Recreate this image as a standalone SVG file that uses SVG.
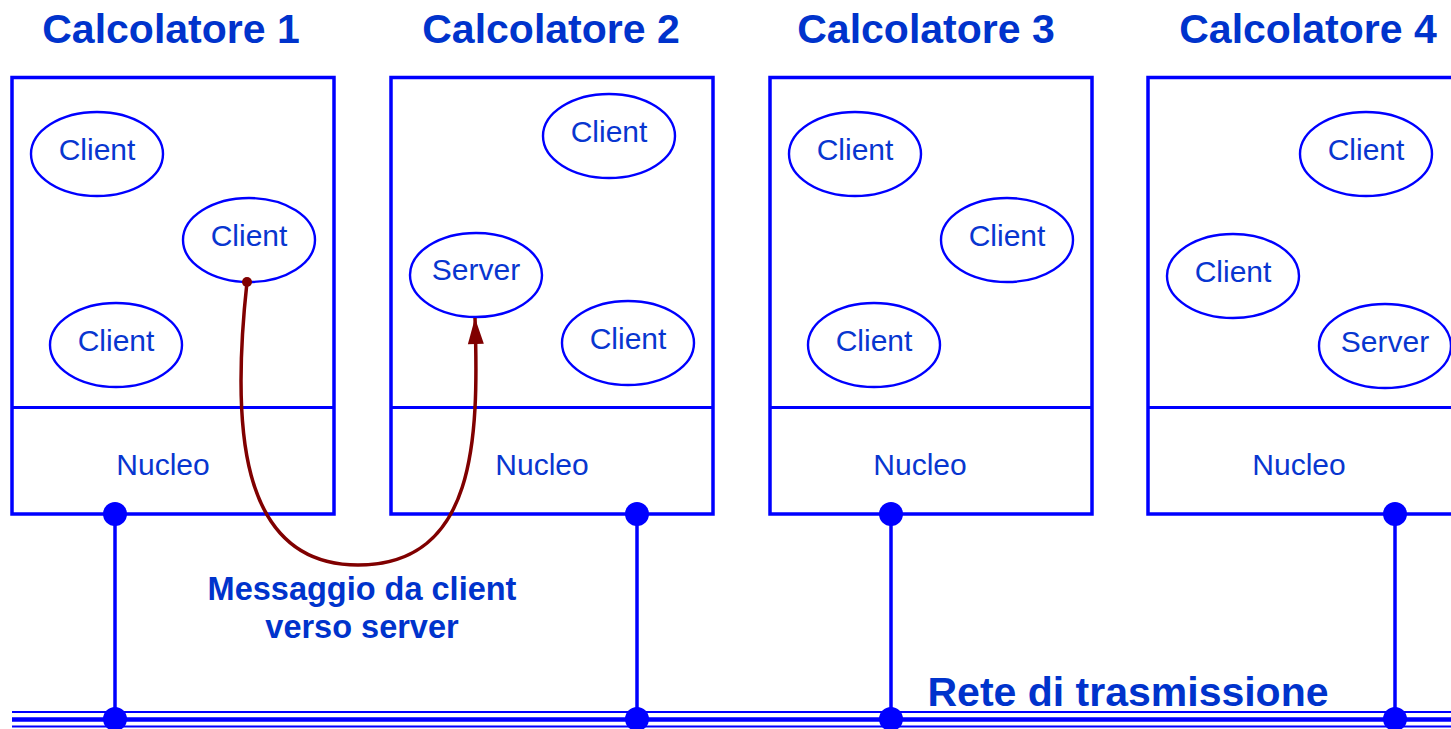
<svg xmlns="http://www.w3.org/2000/svg" width="1451" height="729" viewBox="0 0 1451 729">
<style>
.box{fill:none;stroke:#0000ff;stroke-width:3.5}
.div{stroke:#0000ff;stroke-width:3}
.ell{fill:#fff;stroke:#0000ff;stroke-width:2.4}
.t{font-family:"Liberation Sans",Arial,sans-serif;font-size:30px;fill:#0836d0;text-anchor:middle}
.title{font-family:"Liberation Sans",Arial,sans-serif;font-size:41px;font-weight:bold;fill:#0033cc;text-anchor:middle}
.lbl{font-family:"Liberation Sans",Arial,sans-serif;font-size:32.5px;font-weight:bold;fill:#0033cc;text-anchor:middle}
.wire{stroke:#0000ff;stroke-width:3.5}
.dot{fill:#0000ff}
.msg{fill:none;stroke:#800000;stroke-width:3.5}
</style>
<defs>
<marker id="ah" markerUnits="userSpaceOnUse" markerWidth="28" markerHeight="18" refX="27" refY="9" orient="auto" viewBox="0 0 28 18">
<path d="M27,9 L1,1 L1,17 Z" fill="#800000"/>
</marker>
</defs>

<g id="connectors">
<line class="wire" x1="115" y1="514" x2="115" y2="719"/>
<line class="wire" x1="637" y1="514" x2="637" y2="719"/>
<line class="wire" x1="891" y1="514" x2="891" y2="719"/>
<line class="wire" x1="1395" y1="514" x2="1395" y2="719"/>
</g>

<g id="bus">
<line x1="12" y1="712" x2="1451" y2="712" stroke="#0000ff" stroke-width="2"/>
<line x1="12" y1="719.5" x2="1451" y2="719.5" stroke="#0000ff" stroke-width="4.5"/>
<line x1="12" y1="726.5" x2="1451" y2="726.5" stroke="#0000ff" stroke-width="2"/>
<text class="title" x="1128" y="706" font-size="41.5">Rete di trasmissione</text>
</g>

<g id="calcolatore1">
<text class="title" x="171" y="43">Calcolatore 1</text>
<rect class="box" x="12" y="77.5" width="322" height="436.5"/>
<line class="div" x1="12" y1="407.5" x2="334" y2="407.5"/>
<text class="t" x="163" y="475">Nucleo</text>
<g id="c1-client1"><ellipse class="ell" cx="97" cy="154" rx="66" ry="42"/><text class="t" x="97" y="160">Client</text></g>
<g id="c1-client2"><ellipse class="ell" cx="249" cy="240" rx="66" ry="42"/><text class="t" x="249" y="246">Client</text></g>
<g id="c1-client3"><ellipse class="ell" cx="116" cy="345" rx="66" ry="42"/><text class="t" x="116" y="351">Client</text></g>
</g>

<g id="calcolatore2">
<text class="title" x="551" y="43">Calcolatore 2</text>
<rect class="box" x="391" y="77.5" width="322" height="436.5"/>
<line class="div" x1="391" y1="407.5" x2="713" y2="407.5"/>
<text class="t" x="542" y="475">Nucleo</text>
<g id="c2-client1"><ellipse class="ell" cx="609" cy="136" rx="66" ry="42"/><text class="t" x="609" y="142">Client</text></g>
<g id="c2-server"><ellipse class="ell" cx="476" cy="275" rx="66" ry="42"/><text class="t" x="476" y="280">Server</text></g>
<g id="c2-client2"><ellipse class="ell" cx="628" cy="343" rx="66" ry="42"/><text class="t" x="628" y="349">Client</text></g>
</g>

<g id="calcolatore3">
<text class="title" x="926" y="43">Calcolatore 3</text>
<rect class="box" x="770" y="77.5" width="322" height="436.5"/>
<line class="div" x1="770" y1="407.5" x2="1092" y2="407.5"/>
<text class="t" x="920" y="475">Nucleo</text>
<g id="c3-client1"><ellipse class="ell" cx="855" cy="154" rx="66" ry="42"/><text class="t" x="855" y="160">Client</text></g>
<g id="c3-client2"><ellipse class="ell" cx="1007" cy="240" rx="66" ry="42"/><text class="t" x="1007" y="246">Client</text></g>
<g id="c3-client3"><ellipse class="ell" cx="874" cy="345" rx="66" ry="42"/><text class="t" x="874" y="351">Client</text></g>
</g>

<g id="calcolatore4">
<text class="title" x="1308" y="43">Calcolatore 4</text>
<rect class="box" x="1148" y="77.5" width="322" height="436.5"/>
<line class="div" x1="1148" y1="407.5" x2="1470" y2="407.5"/>
<text class="t" x="1299" y="475">Nucleo</text>
<g id="c4-client1"><ellipse class="ell" cx="1366" cy="154" rx="66" ry="42"/><text class="t" x="1366" y="160">Client</text></g>
<g id="c4-client2"><ellipse class="ell" cx="1233" cy="276" rx="66" ry="42"/><text class="t" x="1233" y="282">Client</text></g>
<g id="c4-server"><ellipse class="ell" cx="1385" cy="346" rx="66" ry="42"/><text class="t" x="1385" y="352">Server</text></g>
</g>

<g id="dots">
<circle class="dot" cx="115" cy="514" r="12"/>
<circle class="dot" cx="637" cy="514" r="12"/>
<circle class="dot" cx="891" cy="514" r="12"/>
<circle class="dot" cx="1395" cy="514" r="12"/>
<circle class="dot" cx="115" cy="719" r="12"/>
<circle class="dot" cx="637" cy="719" r="12"/>
<circle class="dot" cx="891" cy="719" r="12"/>
<circle class="dot" cx="1395" cy="719" r="12"/>
</g>

<g id="message">
<path class="msg" d="M247,282 C232,420 236,565 358,565 C476,565 479,440 475,318" marker-end="url(#ah)"/>
<circle cx="247" cy="282" r="5" fill="#800000"/>
<text class="lbl" x="362" y="600">Messaggio da client</text>
<text class="lbl" x="362" y="638">verso server</text>
</g>
</svg>
